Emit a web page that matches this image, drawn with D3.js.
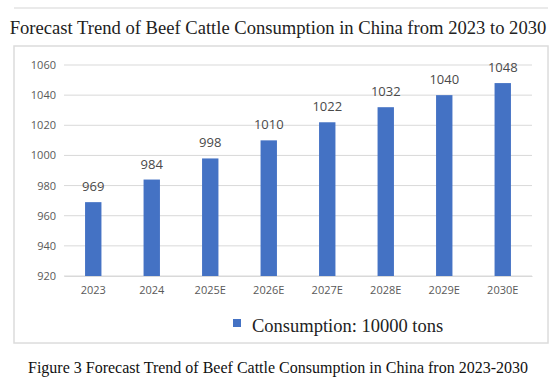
<!DOCTYPE html>
<html>
<head>
<meta charset="utf-8">
<script src="https://cdn.jsdelivr.net/npm/d3@7"></script>
<style>
  body { margin: 0; background: #fff; }
</style>
</head>
<body>
<div id="chart"></div>
<script>
const years = ['2023', '2024', '2025E', '2026E', '2027E', '2028E', '2029E', '2030E']
const consumption = [969, 984, 998, 1010, 1022, 1032, 1040, 1048]
const yTicks = [920, 940, 960, 980, 1000, 1020, 1040, 1060]

const width = 557
const height = 384

const svg = d3
  .select('#chart')
  .append('svg')
  .attr('width', width)
  .attr('height', height)

// thin rule above the title
svg
  .append('line')
  .attr('x1', 14)
  .attr('x2', 548)
  .attr('y1', 8)
  .attr('y2', 8)
  .attr('stroke', '#e3e3e3')
  .attr('stroke-width', 1.5)

svg
  .append('text')
  .attr('x', 278)
  .attr('y', 34)
  .attr('text-anchor', 'middle')
  .attr('font-family', 'Liberation Serif, serif')
  .attr('font-size', 18.6)
  .attr('fill', '#222')
  .text('Forecast Trend of Beef Cattle Consumption in China from 2023 to 2030')

// chart frame
svg
  .append('rect')
  .attr('x', 14)
  .attr('y', 46)
  .attr('width', 534)
  .attr('height', 297)
  .attr('fill', 'none')
  .attr('stroke', '#dcdcdc')
  .attr('stroke-width', 1.5)

const x = d3
  .scaleBand()
  .domain(years)
  .range([64, 532])
  .paddingInner(0.72)
  .paddingOuter(0.36)

const y = d3
  .scaleLinear()
  .domain([920, 1060])
  .range([276, 65])

// gridlines
svg
  .selectAll('.grid')
  .data(yTicks)
  .enter()
  .append('line')
  .attr('class', 'grid')
  .attr('x1', 64)
  .attr('x2', 532)
  .attr('y1', d => y(d))
  .attr('y2', d => y(d))
  .attr('stroke', '#d9d9d9')
  .attr('stroke-width', 1)

const yAxis = svg
  .append('g')
  .attr('transform', 'translate(64,0)')
  .call(
    d3
      .axisLeft(y)
      .tickValues(yTicks)
      .tickFormat(d3.format('d'))
      .tickSize(0)
      .tickPadding(8)
  )

yAxis.select('.domain').remove()
yAxis
  .selectAll('text')
  .attr('font-family', 'Open Sans, sans-serif')
  .attr('font-size', 11)
  .attr('fill', '#595959')

const xAxis = svg
  .append('g')
  .attr('transform', 'translate(0,' + y(920) + ')')
  .call(d3.axisBottom(x).tickSize(0).tickPadding(10))

xAxis.select('.domain').attr('stroke', '#d9d9d9')
xAxis
  .selectAll('text')
  .attr('font-family', 'Open Sans, sans-serif')
  .attr('font-size', 11)
  .attr('fill', '#595959')

svg
  .selectAll('.bar')
  .data(consumption)
  .enter()
  .append('rect')
  .attr('class', 'bar')
  .attr('x', (d, i) => x(years[i]))
  .attr('width', x.bandwidth())
  .attr('y', d => y(d))
  .attr('height', d => y(920) - y(d))
  .attr('fill', '#4472c4')

svg
  .selectAll('.value')
  .data(consumption)
  .enter()
  .append('text')
  .attr('class', 'value')
  .attr('x', (d, i) => x(years[i]) + x.bandwidth() / 2)
  .attr('y', d => y(d) - 11)
  .attr('text-anchor', 'middle')
  .attr('font-family', 'Open Sans, sans-serif')
  .attr('font-size', 13)
  .attr('fill', '#4a4a4a')
  .text(d => d)

// legend
svg
  .append('rect')
  .attr('x', 233)
  .attr('y', 319)
  .attr('width', 8)
  .attr('height', 8)
  .attr('fill', '#4472c4')

svg
  .append('text')
  .attr('x', 252)
  .attr('y', 332)
  .attr('font-family', 'Liberation Serif, serif')
  .attr('font-size', 18.5)
  .attr('fill', '#222')
  .text('Consumption: 10000 tons')

svg
  .append('text')
  .attr('x', 278)
  .attr('y', 373)
  .attr('text-anchor', 'middle')
  .attr('font-family', 'Liberation Serif, serif')
  .attr('font-size', 16)
  .attr('fill', '#111')
  .text('Figure 3 Forecast Trend of Beef Cattle Consumption in China fron 2023-2030')
</script>
</body>
</html>
